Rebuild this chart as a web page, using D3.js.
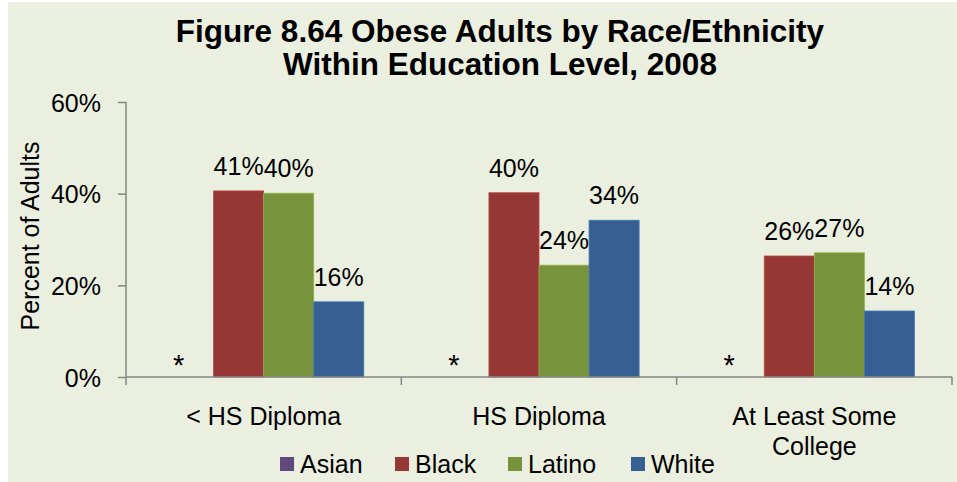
<!DOCTYPE html>
<html>
<head>
<meta charset="utf-8">
<script src="https://cdn.jsdelivr.net/npm/d3@7"></script>
<style>
  body { margin: 0; background: #fff; }
  text { font-family: "Liberation Sans", Arial, sans-serif; fill: #000; }
</style>
</head>
<body>
<div id="chart"></div>
<script>
var categories = [["< HS Diploma"], ["HS Diploma"], ["At Least Some", "College"]];
var series = ["Asian", "Black", "Latino", "White"];
var colors = ["#604A7B", "#953735", "#77933C", "#376092"];
// Asian values suppressed (shown as *)
var asian  = [null, null, null];
var black  = [40.6, 40.2, 26.4];
var latino = [40.1, 24.4, 27.1];
var white  = [16.4, 34.2, 14.4];
var yTicks = [0, 20, 40, 60];

var values = [asian, black, latino, white];

var W = 957, H = 482;
var margin = {left: 126, right: 5, top: 102, bottom: 105};
var width = W - margin.left - margin.right,
    height = H - margin.top - margin.bottom;

var svg = d3.select("#chart").append("svg")
    .attr("width", W)
    .attr("height", H);

svg.append("rect")
    .attr("x", 8).attr("y", 2)
    .attr("width", W - 8).attr("height", H - 2)
    .style("fill", "#EBEFDF");

// title
svg.append("text")
    .attr("x", 500).attr("y", 42)
    .attr("text-anchor", "middle")
    .style("font-size", "31.5px").style("font-weight", "bold")
    .text("Figure 8.64 Obese Adults by Race/Ethnicity");
svg.append("text")
    .attr("x", 500).attr("y", 75)
    .attr("text-anchor", "middle")
    .style("font-size", "31.5px").style("font-weight", "bold")
    .text("Within Education Level, 2008");

var g = svg.append("g")
    .attr("transform", "translate(" + margin.left + "," + margin.top + ")");

var x0 = d3.scaleBand()
    .domain(d3.range(categories.length))
    .range([0, width])
    .paddingInner(0)
    .paddingOuter(0);

var x1 = d3.scaleBand()
    .domain(d3.range(series.length))
    .range([0, x0.bandwidth()])
    .paddingOuter(0.75)
    .paddingInner(0);

var y = d3.scaleLinear().domain([0, 60]).range([height, 0]);

// y axis
var yAxis = d3.axisLeft(y)
    .tickValues(yTicks)
    .tickSize(8)
    .tickPadding(17)
    .tickFormat(function(d) { return d + "%"; });

var ya = g.append("g").attr("class", "axis").call(yAxis);
ya.selectAll("line, path").attr("stroke", "#868686").attr("stroke-width", 1.5);
ya.select(".domain").attr("d", "M0," + y(60) + "V" + height);
ya.selectAll(".tick text").style("font-size", "25px").attr("dy", "0.36em");
ya.attr("font-family", null).attr("font-size", null);

svg.append("text")
    .attr("transform", "translate(39,236) rotate(-90)")
    .attr("text-anchor", "middle")
    .style("font-size", "25px")
    .text("Percent of Adults");

// bars
var groups = g.selectAll(".grp")
    .data(categories)
    .enter().append("g")
    .attr("class", "grp")
    .attr("transform", function(d, i) { return "translate(" + x0(i) + ",0)"; });

groups.each(function(cat, ci) {
  var sel = d3.select(this);
  var rows = series.map(function(s, si) { return {s: si, v: values[si][ci]}; });

  sel.selectAll("rect")
      .data(rows.filter(function(r) { return r.v != null; }))
      .enter().append("rect")
      .attr("x", function(r) { return x1(r.s); })
      .attr("width", x1.bandwidth())
      .attr("y", function(r) { return y(r.v); })
      .attr("height", function(r) { return height - y(r.v); })
      .style("fill", function(r) { return colors[r.s]; })
      .style("stroke", function(r) { return d3.color(colors[r.s]).brighter(0.6); })
      .style("stroke-width", 0.8);

  sel.selectAll(".lbl")
      .data(rows)
      .enter().append("text")
      .attr("class", "lbl")
      .attr("x", function(r) { return x1(r.s) + x1.bandwidth() / 2 - (r.v == null ? 10 : 0); })
      .attr("y", function(r) { return r.v == null ? height - 2 : y(r.v) - 16; })
      .attr("text-anchor", "middle")
      .style("font-size", function(r) { return r.v == null ? "29px" : "25px"; })
      .text(function(r) { return r.v == null ? "*" : Math.round(r.v) + "%"; });
});

// x axis
var xa = g.append("g").attr("transform", "translate(0," + height + ")");
xa.append("line")
    .attr("x1", 0).attr("x2", width)
    .attr("stroke", "#868686").attr("stroke-width", 1.5);
xa.selectAll(".xt")
    .data(d3.range(categories.length + 1))
    .enter().append("line")
    .attr("class", "xt")
    .attr("x1", function(i) { return i * x0.step(); })
    .attr("x2", function(i) { return i * x0.step(); })
    .attr("y1", 0).attr("y2", 8)
    .attr("stroke", "#868686").attr("stroke-width", 1.5);

xa.selectAll(".cl")
    .data(categories)
    .enter().append("text")
    .attr("class", "cl")
    .attr("text-anchor", "middle")
    .attr("transform", function(d, i) { return "translate(" + (x0(i) + x0.bandwidth() / 2) + ",48)"; })
    .style("font-size", "25px")
    .each(function(lines) {
      var t = d3.select(this);
      lines.forEach(function(l, li) {
        t.append("tspan").attr("x", 0).attr("dy", li === 0 ? 0 : 30).text(l);
      });
    });

// legend
var legendX = [280, 395, 508, 631];
var legend = svg.selectAll(".leg")
    .data(series)
    .enter().append("g")
    .attr("class", "leg")
    .attr("transform", function(d, i) { return "translate(" + legendX[i] + ",457)"; });
legend.append("rect")
    .attr("width", 14).attr("height", 14)
    .style("fill", function(d, i) { return colors[i]; });
legend.append("text")
    .attr("x", 20).attr("y", 16)
    .style("font-size", "25px")
    .text(function(d) { return d; });
</script>
</body>
</html>
